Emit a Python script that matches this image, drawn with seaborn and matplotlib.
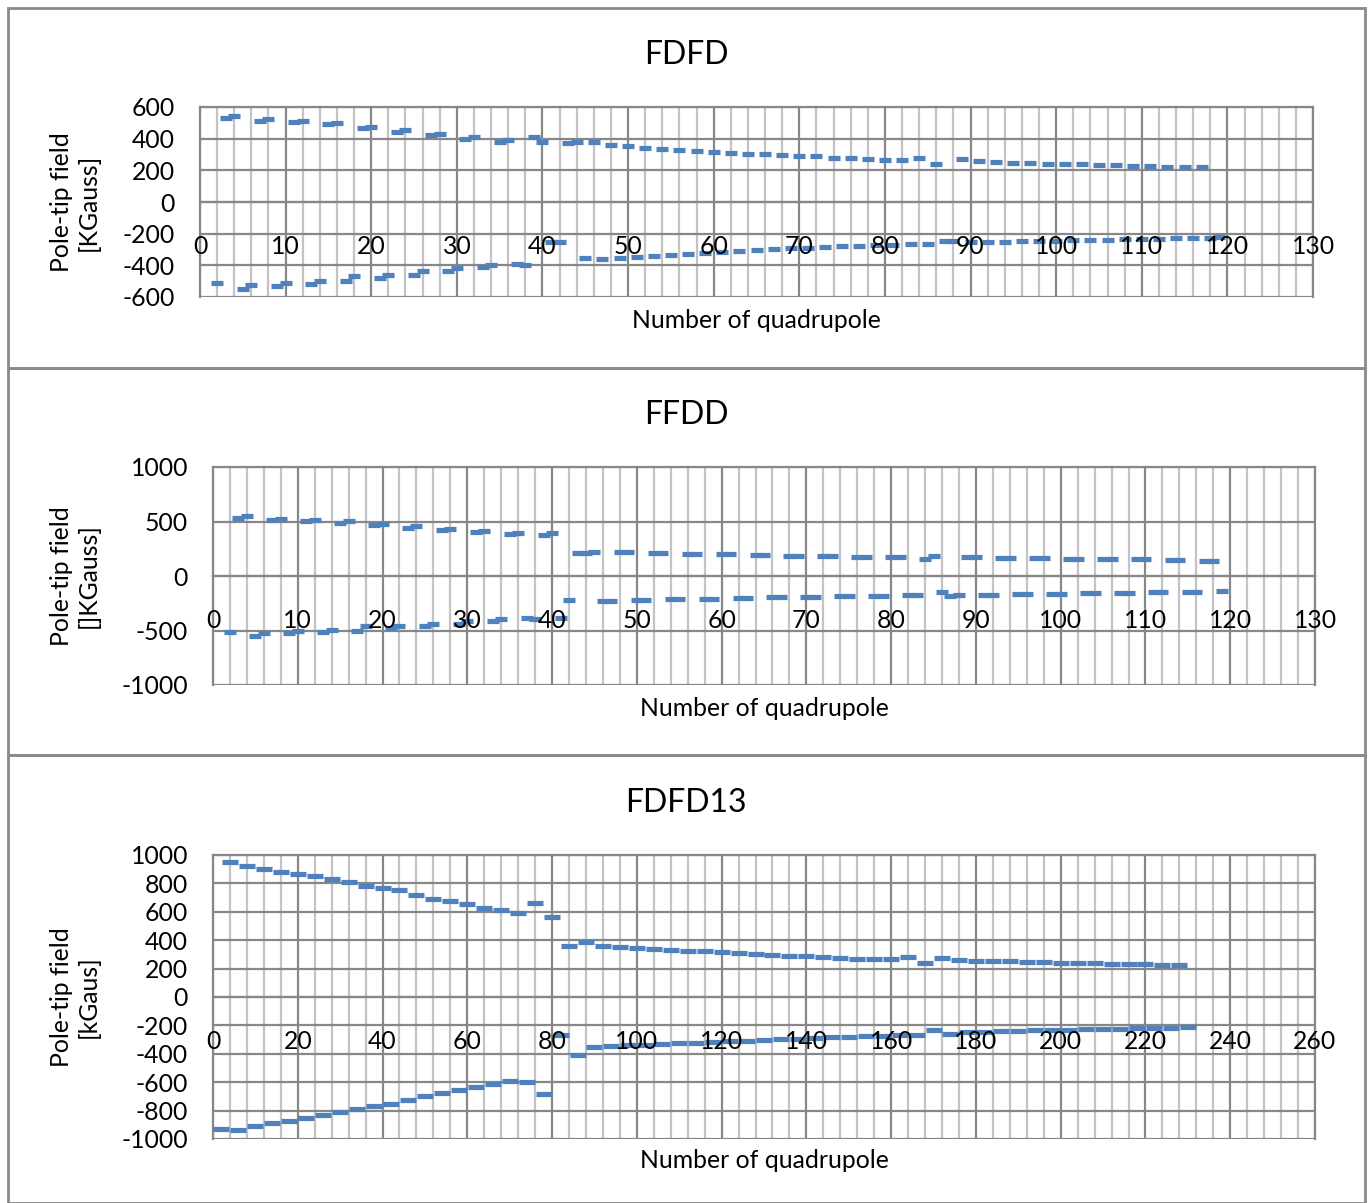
import matplotlib
matplotlib.use("Agg")
import matplotlib.pyplot as plt
import seaborn as sns
import pandas as pd
from matplotlib.patches import Rectangle
from matplotlib.ticker import MultipleLocator

# ---------------------------------------------------------------- data
# FDFD lattice: focusing (positive) and defocusing (negative) quadrupoles
fdfd_f_x = [3, 4, 7, 8, 11, 12, 15, 16, 19, 20, 23, 24, 27, 28, 31, 32, 35, 36,
            39, 40, 43, 44, 46, 48, 50, 52, 54, 56, 58, 60, 62, 64, 66, 68, 70,
            72, 74, 76, 78, 80, 82, 84, 86, 89, 91, 93, 95, 97, 99, 101, 103,
            105, 107, 109, 111, 113, 115, 117]
fdfd_f_val = [532, 543, 514, 524, 503, 512, 491, 501, 465, 476, 444, 455, 423,
              432, 400, 409, 381, 390, 409, 377, 375, 376, 382, 357, 351, 343,
              336, 328, 322, 315, 309, 305, 300, 296, 292, 288, 281, 278, 273,
              267, 267, 281, 240, 271, 256, 252, 248, 246, 242, 240, 237, 233,
              231, 229, 225, 223, 223, 221]
fdfd_d_x = [2, 5, 6, 9, 10, 13, 14, 17, 18, 21, 22, 25, 26, 29, 30, 33, 34, 37,
            38, 41, 42, 45, 47, 49, 51, 53, 55, 57, 59, 61, 63, 65, 67, 69, 71,
            73, 75, 77, 79, 81, 83, 85, 87, 88, 90, 92, 94, 96, 98, 100, 102,
            104, 106, 108, 110, 112, 114, 116, 118, 119]
fdfd_d_val = [-511, -547, -526, -528, -511, -515, -501, -501, -465, -478, -461,
              -459, -438, -433, -417, -412, -396, -391, -396, -252, -252, -352,
              -360, -352, -346, -340, -334, -328, -321, -314, -308, -303, -298,
              -293, -289, -285, -281, -277, -274, -271, -268, -265, -245, -245,
              -255, -252, -250, -248, -246, -244, -242, -240, -238, -236, -234,
              -232, -230, -228, -225, -223]

# FFDD lattice
ffdd_f_x = [3, 4, 7, 8, 11, 12, 15, 16, 19, 20, 23, 24, 27, 28, 31, 32, 35, 36,
            39, 40, 43, 44, 45, 48, 49, 52, 53, 56, 57, 60, 61, 64, 65, 68, 69,
            72, 73, 76, 77, 80, 81, 84, 85, 89, 90, 93, 94, 97, 98, 101, 102,
            105, 106, 109, 110, 113, 114, 117, 118]
ffdd_f_val = [531, 546, 515, 527, 503, 515, 490, 503, 466, 478, 444, 457, 423,
              435, 401, 411, 383, 392, 377, 395, 213, 213, 223, 217, 217, 208,
              208, 201, 201, 198, 198, 192, 192, 186, 186, 183, 183, 177, 177,
              174, 174, 152, 183, 171, 171, 161, 161, 161, 161, 155, 155, 155,
              155, 152, 152, 146, 146, 139, 139]
ffdd_d_x = [2, 5, 6, 9, 10, 13, 14, 17, 18, 21, 22, 25, 26, 29, 30, 33, 34, 37,
            38, 41, 42, 46, 47, 50, 51, 54, 55, 58, 59, 62, 63, 66, 67, 70, 71,
            74, 75, 78, 79, 82, 83, 86, 87, 88, 91, 92, 95, 96, 99, 100, 103,
            104, 107, 108, 111, 112, 115, 116, 119]
ffdd_d_val = [-516, -547, -525, -525, -500, -516, -494, -507, -463, -479, -461,
              -461, -439, -439, -417, -414, -399, -387, -399, -383, -224, -230,
              -230, -217, -217, -214, -214, -208, -208, -202, -202, -193, -193,
              -189, -189, -184, -184, -180, -180, -171, -171, -147, -184, -177,
              -171, -171, -162, -162, -162, -162, -156, -156, -153, -153, -150,
              -150, -147, -147, -140]

# FDFD13 lattice
fdfd13_f_x = list(range(4, 229, 4))
fdfd13_f_val = [951, 925, 901, 882, 863, 849, 833, 810, 784, 765, 751, 720, 692,
                673, 655, 629, 610, 594, 662, 563, 356, 387, 361, 352, 345, 335,
                331, 326, 321, 314, 307, 303, 298, 291, 286, 279, 275, 270, 268,
                265, 284, 239, 272, 258, 256, 253, 251, 249, 244, 242, 239, 237,
                235, 232, 230, 227, 223]
fdfd13_d_x = list(range(2, 231, 4))
fdfd13_d_val = [-927, -935, -911, -887, -871, -852, -834, -813, -789, -770,
                -751, -728, -700, -676, -658, -634, -613, -594, -599, -683,
                -270, -411, -355, -348, -341, -336, -331, -327, -322, -317,
                -313, -308, -303, -299, -294, -289, -285, -280, -277, -273,
                -270, -265, -235, -261, -249, -244, -242, -237, -235, -232,
                -230, -225, -225, -223, -221, -218, -216, -214]

titles = ["FDFD", "FFDD", "FDFD13"]
ylabels = ["Pole-tip field\n[KGauss]", "Pole-tip field\n[]KGauss]",
           "Pole-tip field\n[kGaus]"]
xlabel = "Number of quadrupole"

# ---------------------------------------------------------------- style
W, H = 1370, 1203
DPI = 100
BLUE = "#4F81BD"
MAJOR = "#878787"
MINOR = "#c3c3c3"
FRAME = "#8a8a8a"
TXT = 17.8
PX = 72.0 / DPI  # points per pixel

sns.set_theme(style="white")
plt.rcParams["font.family"] = ["Lato", "DejaVu Sans"]
plt.rcParams["text.color"] = "black"
plt.rcParams["axes.unicode_minus"] = False

fig = plt.figure(figsize=(W / DPI, H / DPI), dpi=DPI)
fig.patch.set_facecolor("white")


def fx(px):
    return px / W


def fy(py):
    return 1 - py / H


def rect(left, top, right, bottom):
    return [fx(left), fy(bottom), (right - left) / W, (bottom - top) / H]


def draw_series(ax, xs, vals, width_px):
    df = pd.DataFrame({"x": xs, "y": vals})
    sns.lineplot(data=df, x="x", y="y", ax=ax, estimator=None, sort=False,
                 linestyle="none", marker="_", markersize=width_px * PX,
                 markeredgewidth=5.2 * PX, color=BLUE, markeredgecolor=BLUE,
                 clip_on=False, zorder=5)


def style_panel(ax, xmax, xmaj, xmin, ylim, ystep):
    ax.set_xlim(0, xmax)
    ax.set_ylim(-ylim, ylim)
    ax.xaxis.set_major_locator(MultipleLocator(xmaj))
    ax.xaxis.set_minor_locator(MultipleLocator(xmin))
    ax.yaxis.set_major_locator(MultipleLocator(ystep))
    ax.set_axisbelow(True)
    ax.grid(which="minor", axis="x", color=MINOR, lw=2.2 * PX)
    ax.grid(which="major", axis="both", color=MAJOR, lw=2.2 * PX)
    for gl in ax.get_ygridlines() + ax.get_xgridlines():
        gl.set_clip_on(False)
    for s in ["top", "right", "left", "bottom"]:
        ax.spines[s].set_visible(True)
        ax.spines[s].set_color(MAJOR)
        ax.spines[s].set_linewidth(2.2 * PX)
    ax.spines["bottom"].set_position(("data", 0))
    ax.spines["left"].set_position(("data", 0))
    # x tick labels live on the overlay axes so they sit above the data
    ax.tick_params(axis="x", which="both", length=0, labelbottom=False)
    ax.tick_params(axis="y", which="major", length=8 * PX, width=2 * PX,
                   color=MAJOR, direction="out", pad=17 * PX,
                   labelsize=TXT, labelcolor="black")


def label_overlay(pos, xmax, xmaj, ylim):
    top = fig.add_axes(pos, zorder=10)
    top.patch.set_alpha(0)
    top.set_xlim(0, xmax)
    top.set_ylim(-ylim, ylim)
    top.xaxis.set_major_locator(MultipleLocator(xmaj))
    top.set_yticks([])
    for s in top.spines.values():
        s.set_visible(False)
    top.spines["bottom"].set_position(("data", 0))
    top.tick_params(axis="x", which="both", length=0, pad=24,
                    labelsize=TXT, labelcolor="black")
    top.grid(False)


panels = [
    dict(box=(200, 107, 1313, 297), xmax=130, xmaj=10, xmin=2, ylim=600,
         ystep=200, f=(fdfd_f_x, fdfd_f_val), d=(fdfd_d_x, fdfd_d_val),
         w=12.5, frame=(8, 8, 1365, 368), title_y=55, ylab_x=75,
         xlab_y=321),
    dict(box=(213, 467, 1315, 685), xmax=130, xmaj=10, xmin=2, ylim=1000,
         ystep=500, f=(ffdd_f_x, ffdd_f_val), d=(ffdd_d_x, ffdd_d_val),
         w=12.0, frame=(8, 368, 1365, 755), title_y=415, ylab_x=75,
         xlab_y=708),
    dict(box=(213, 855, 1315, 1139), xmax=260, xmaj=20, xmin=4, ylim=1000,
         ystep=200, f=(fdfd13_f_x, fdfd13_f_val),
         d=(fdfd13_d_x, fdfd13_d_val), w=15.7, frame=(8, 755, 1365, 1203),
         title_y=803, ylab_x=75, xlab_y=1161),
]

for p, title, ylab in zip(panels, titles, ylabels):
    l, t, r, b = p["box"]
    pos = rect(l, t, r, b)
    ax = fig.add_axes(pos)
    ax.patch.set_alpha(0)
    style_panel(ax, p["xmax"], p["xmaj"], p["xmin"], p["ylim"], p["ystep"])
    draw_series(ax, *p["f"], p["w"])
    draw_series(ax, *p["d"], p["w"])
    ax.set_xlabel("")
    ax.set_ylabel("")
    label_overlay(pos, p["xmax"], p["xmaj"], p["ylim"])

    x0, y0, x1, y1 = p["frame"]
    fig.add_artist(Rectangle((fx(x0), fy(y1)), (x1 - x0) / W, (y1 - y0) / H,
                             transform=fig.transFigure, fill=False,
                             ec=FRAME, lw=2.8 * PX))
    fig.text(fx(686), fy(p["title_y"]), title, ha="center", va="center",
             fontsize=23)
    fig.text(fx(p["ylab_x"]), fy((t + b) / 2), ylab, ha="center",
             va="center", rotation=90, fontsize=TXT, multialignment="center",
             linespacing=1.2)
    fig.text(fx((l + r) / 2), fy(p["xlab_y"]), xlabel, ha="center",
             va="center", fontsize=TXT)

fig.savefig("out.png", dpi=DPI, facecolor="white")
